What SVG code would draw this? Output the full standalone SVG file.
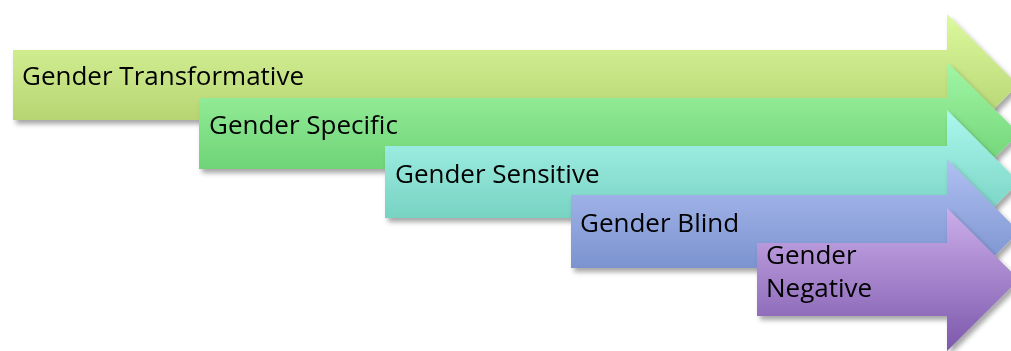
<svg xmlns="http://www.w3.org/2000/svg" width="1011" height="351" viewBox="0 0 1011 351">
<defs>
<style>
.lbl{font-family:"Open Sans","Liberation Sans",sans-serif;font-size:26px;fill:#000}
.arrow{filter:url(#sh)}
</style>
<filter id="sh" x="-10%" y="-20%" width="130%" height="150%">
<feDropShadow dx="3" dy="4" stdDeviation="2.5" flood-color="#000" flood-opacity="0.35"/>
</filter>
<linearGradient id="g1" x1="0" y1="0" x2="0" y2="1"><stop offset="0" stop-color="#dcfa9e"/><stop offset="1" stop-color="#aac864"/></linearGradient>
<linearGradient id="g2" x1="0" y1="0" x2="0" y2="1"><stop offset="0" stop-color="#a2f6a4"/><stop offset="1" stop-color="#5ec868"/></linearGradient>
<linearGradient id="g3" x1="0" y1="0" x2="0" y2="1"><stop offset="0" stop-color="#acf8ee"/><stop offset="1" stop-color="#66c6b4"/></linearGradient>
<linearGradient id="g4" x1="0" y1="0" x2="0" y2="1"><stop offset="0" stop-color="#b0c0f2"/><stop offset="1" stop-color="#6a84c4"/></linearGradient>
<linearGradient id="g5" x1="0" y1="0" x2="0" y2="1"><stop offset="0" stop-color="#ccaeea"/><stop offset="1" stop-color="#7c58ac"/></linearGradient>
</defs>
<g id="arrow1" class="arrow">
<path d="M13,50 H947 V14 L1018,85 L947,156 V120 H13 Z" fill="url(#g1)"/>
<text class="lbl" x="22" y="85">Gender Transformative</text>
</g>
<g id="arrow2" class="arrow">
<path d="M199,98 H947 V62 L1019,133.5 L947,205 V169 H199 Z" fill="url(#g2)"/>
<text class="lbl" x="209" y="134">Gender Specific</text>
</g>
<g id="arrow3" class="arrow">
<path d="M385,146 H947 V110 L1019,182 L947,254 V218 H385 Z" fill="url(#g3)"/>
<text class="lbl" x="395" y="183">Gender Sensitive</text>
</g>
<g id="arrow4" class="arrow">
<path d="M571,195 H947 V159 L1019,231.5 L947,304 V268 H571 Z" fill="url(#g4)"/>
<text class="lbl" x="580" y="232">Gender Blind</text>
</g>
<g id="arrow5" class="arrow">
<path d="M757,243 H947 V208 L1019,279.5 L947,351 V316 H757 Z" fill="url(#g5)"/>
<text class="lbl" x="766" y="264">Gender</text>
<text class="lbl" x="766" y="297">Negative</text>
</g>
<g id="connectors"/>
</svg>
